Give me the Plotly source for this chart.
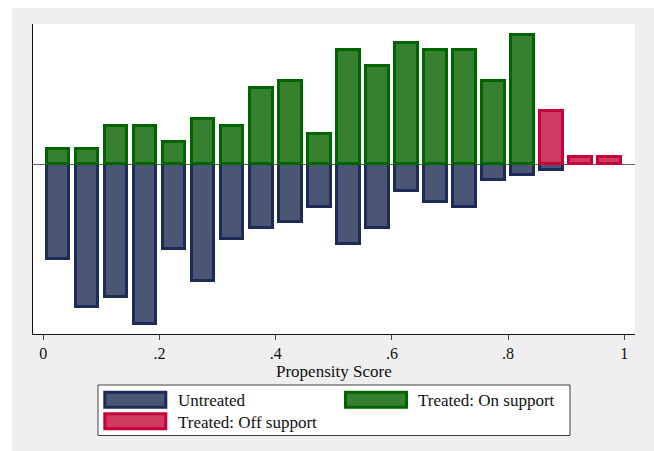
import plotly.graph_objects as go

# Propensity score bins (centres of 0.05-wide bins)
bin_centers = [0.025, 0.075, 0.125, 0.175, 0.225, 0.275, 0.325, 0.375, 0.425, 0.475,
               0.525, 0.575, 0.625, 0.675, 0.725, 0.775, 0.825, 0.875, 0.925, 0.975]

# Frequencies per bin
untreated = [12.5, 18.8, 17.5, 21.0, 11.2, 15.4, 9.8, 8.4, 7.6, 5.6,
             10.5, 8.4, 3.5, 4.9, 5.6, 2.1, 1.4, 0.8, 0, 0]
treated_on = [2, 2, 5, 5, 3, 6, 5, 10, 11, 4, 15, 13, 16, 15, 15, 11, 17, 0, 0, 0]
treated_off = [0, 0, 0, 0, 0, 0, 0, 0, 0, 0, 0, 0, 0, 0, 0, 0, 0, 7, 1, 1]

x_ticks = [0, 0.2, 0.4, 0.6, 0.8, 1]
x_tick_labels = ["0", ".2", ".4", ".6", ".8", "1"]
x_title = "Propensity Score"

series_names = ["Untreated", "Treated: On support", "Treated: Off support"]
fill_colors = ["#4b5675", "#37802f", "#cf3a60"]
line_colors = ["#1c2b57", "#006400", "#c8003a"]

FONT = "Liberation Serif"
FSIZE = 17
W, H = 654, 451
ML, MR, MT, MB = 33, 19, 24, 117
PW, PH = W - ML - MR, H - MT - MB
BAR_W = 0.039

fig = go.Figure()

# Untreated mirrored below zero
ux = [c for c, v in zip(bin_centers, untreated) if v > 0]
uy = [-v for v in untreated if v > 0]
fig.add_trace(go.Bar(x=ux, y=uy, width=BAR_W, name=series_names[0],
                     marker=dict(color=fill_colors[0],
                                 line=dict(color=line_colors[0], width=3))))

tx = [c for c, v in zip(bin_centers, treated_on) if v > 0]
ty = [v for v in treated_on if v > 0]
fig.add_trace(go.Bar(x=tx, y=ty, width=BAR_W, name=series_names[1],
                     marker=dict(color=fill_colors[1],
                                 line=dict(color=line_colors[1], width=3))))

ox = [c for c, v in zip(bin_centers, treated_off) if v > 0]
oy = [v for v in treated_off if v > 0]
fig.add_trace(go.Bar(x=ox, y=oy, width=BAR_W, name=series_names[2],
                     marker=dict(color=fill_colors[2],
                                 line=dict(color=line_colors[2], width=3))))


def px_x(px):
    return (px - ML) / PW


def px_y(py):
    return (H - MB - py) / PH


shapes = []
annotations = []

# White page strips around the grey chart region
shapes.append(dict(type="rect", xref="paper", yref="paper", layer="above",
                   x0=px_x(-5), x1=px_x(12), y0=px_y(H + 5), y1=px_y(-5),
                   fillcolor="white", line=dict(width=0)))
shapes.append(dict(type="rect", xref="paper", yref="paper", layer="above",
                   x0=px_x(-5), x1=px_x(W + 5), y0=px_y(8), y1=px_y(-5),
                   fillcolor="white", line=dict(width=0)))

# Axis title
annotations.append(dict(xref="paper", yref="paper", x=px_x(334), y=px_y(371),
                        xanchor="center", yanchor="middle", showarrow=False,
                        text=x_title,
                        font=dict(family=FONT, size=FSIZE, color="#111111")))

# Legend box
shapes.append(dict(type="rect", xref="paper", yref="paper", layer="above",
                   x0=px_x(98), x1=px_x(570), y0=px_y(435.5), y1=px_y(385),
                   fillcolor="white", line=dict(color="#404040", width=1)))

legend_items = [
    (0, 104.8, 392.2, 175.5, 400.5),
    (1, 345.5, 392.2, 416, 400.5),
    (2, 104.8, 413.8, 175.5, 422.0),
]
for idx, sx, sy, tx_px, ty_px in legend_items:
    shapes.append(dict(type="rect", xref="paper", yref="paper", layer="above",
                       x0=px_x(sx), x1=px_x(sx + 61), y0=px_y(sy + 15), y1=px_y(sy),
                       fillcolor=fill_colors[idx],
                       line=dict(color=line_colors[idx], width=3)))
    annotations.append(dict(xref="paper", yref="paper", x=px_x(tx_px), y=px_y(ty_px),
                            xanchor="left", yanchor="middle", showarrow=False,
                            text=series_names[idx],
                            font=dict(family=FONT, size=FSIZE, color="#111111")))

x0 = -10.3 / 581
x1 = x0 + PW / 581
unit = 7.6
y_top = (164.3 - MT) / unit
y_bot = -(H - MB - 164.3) / unit

fig.update_layout(
    width=W, height=H,
    margin=dict(l=ML, r=MR, t=MT, b=MB),
    paper_bgcolor="#efefef",
    plot_bgcolor="white",
    barmode="overlay",
    bargap=0,
    showlegend=False,
    shapes=shapes,
    annotations=annotations,
    xaxis=dict(range=[x0, x1], tickvals=x_ticks, ticktext=x_tick_labels,
               ticks="outside", ticklen=5, tickcolor="#444444", tickwidth=1,
               showline=True, linecolor="#111111", linewidth=1,
               showgrid=False, zeroline=False,
               tickfont=dict(family=FONT, size=16, color="#111111")),
    yaxis=dict(range=[y_bot, y_top], showticklabels=False, ticks="",
               showline=True, linecolor="#111111", linewidth=1,
               showgrid=False, zeroline=True, zerolinecolor="#666666",
               zerolinewidth=1),
)

fig.write_html("out.html")
